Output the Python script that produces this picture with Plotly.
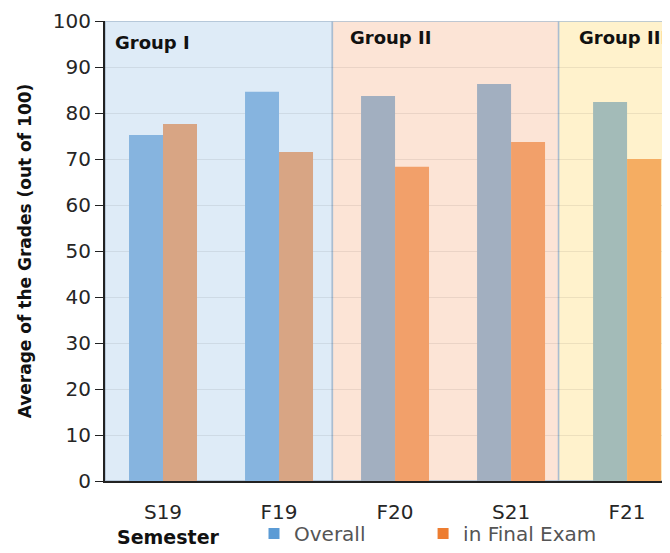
import plotly.graph_objects as go

semesters = ["S19", "F19", "F20", "S21", "F21"]
overall = [75.2, 84.6, 83.7, 86.3, 82.4]
final_exam = [77.6, 71.5, 68.3, 73.7, 70.0]
groups = ["Group I", "Group II", "Group III"]
y_ticks = [0, 10, 20, 30, 40, 50, 60, 70, 80, 90, 100]

overall_colors = ["#86B4DF", "#86B4DF", "#A2AFC0", "#A2AFC0", "#A3BBB8"]
final_colors = ["#D8A584", "#D8A584", "#F2A06A", "#F2A06A", "#F5AD62"]
group_fills = ["#DEEBF7", "#FCE4D6", "#FFF2CC"]
group_spans = [(-0.5, 1.46), (1.46, 3.41), (3.41, 4.6)]
group_label_pos = [(-0.43, 95.4), (1.595, 96.4), (3.57, 96.4)]

FONT = "DejaVu Sans"
TXT = "#262626"

fig = go.Figure()
fig.add_trace(go.Bar(x=semesters, y=overall, marker=dict(color=overall_colors, line=dict(width=0)),
                     showlegend=False, name="Overall"))
fig.add_trace(go.Bar(x=semesters, y=final_exam, marker=dict(color=final_colors, line=dict(width=0)),
                     showlegend=False, name="in Final Exam"))
# legend-only entries
fig.add_trace(go.Scatter(x=[None], y=[None], mode="markers",
                         marker=dict(symbol="square", size=11, color="#5B9BD5"),
                         name="Overall", legend="legend"))
fig.add_trace(go.Scatter(x=[None], y=[None], mode="markers",
                         marker=dict(symbol="square", size=11, color="#ED7D31"),
                         name="in Final Exam", legend="legend2"))

shapes = []
for (x0, x1), fill in zip(group_spans, group_fills):
    shapes.append(dict(type="rect", xref="x", yref="y", x0=x0, x1=x1, y0=0, y1=100,
                       fillcolor=fill, line=dict(color="#A9BDD1", width=1.5), layer="below"))

annotations = []
for g, (gx, gy) in zip(groups, group_label_pos):
    annotations.append(dict(text="<b>" + g + "</b>", x=gx, y=gy, xref="x", yref="y",
                            xanchor="left", yanchor="middle", showarrow=False,
                            font=dict(family=FONT, size=18, color="#111111")))
annotations.append(dict(text="<b>Semester</b>", x=0.113, y=-0.1217, xref="paper", yref="paper",
                        xanchor="center", yanchor="middle", showarrow=False,
                        font=dict(family=FONT, size=19, color="#111111")))

# page body adds an 8px offset, so the figure is 8px smaller on each axis
fig.update_layout(
    width=662, height=545,
    margin=dict(l=97, r=0, t=13, b=72),
    paper_bgcolor="white", plot_bgcolor="white",
    barmode="group", bargap=0.414, bargroupgap=0,
    shapes=shapes,
    font=dict(family=FONT, color=TXT),
    xaxis=dict(type="category", range=[-0.5, 4.37], showgrid=False, showline=True,
               linecolor="#222222", linewidth=2, ticks="", tickfont=dict(size=20, color=TXT),
               ticklabelstandoff=12, zeroline=False, automargin=False),
    yaxis=dict(range=[0, 100], tickvals=y_ticks, showgrid=True, gridcolor="rgba(0,0,0,0.07)",
               gridwidth=1, showline=True, linecolor="#222222", linewidth=2, ticks="outside",
               ticklen=8, tickcolor="#222222", tickfont=dict(size=20, color=TXT), zeroline=False,
               automargin=False,
               title=dict(text="<b>Average of the Grades (out of 100)</b>",
                          font=dict(size=17, color="#111111"), standoff=17)),
    legend=dict(orientation="h", xref="container", yref="container", x=0.3716, y=-0.006,
                xanchor="left", yanchor="bottom",
                font=dict(size=20, color="#555555"), bgcolor="rgba(0,0,0,0)"),
    legend2=dict(orientation="h", xref="container", yref="container", x=0.627, y=-0.006,
                 xanchor="left", yanchor="bottom",
                 font=dict(size=20, color="#555555"), bgcolor="rgba(0,0,0,0)"),
    annotations=annotations,
)

fig.write_html("out.html")
